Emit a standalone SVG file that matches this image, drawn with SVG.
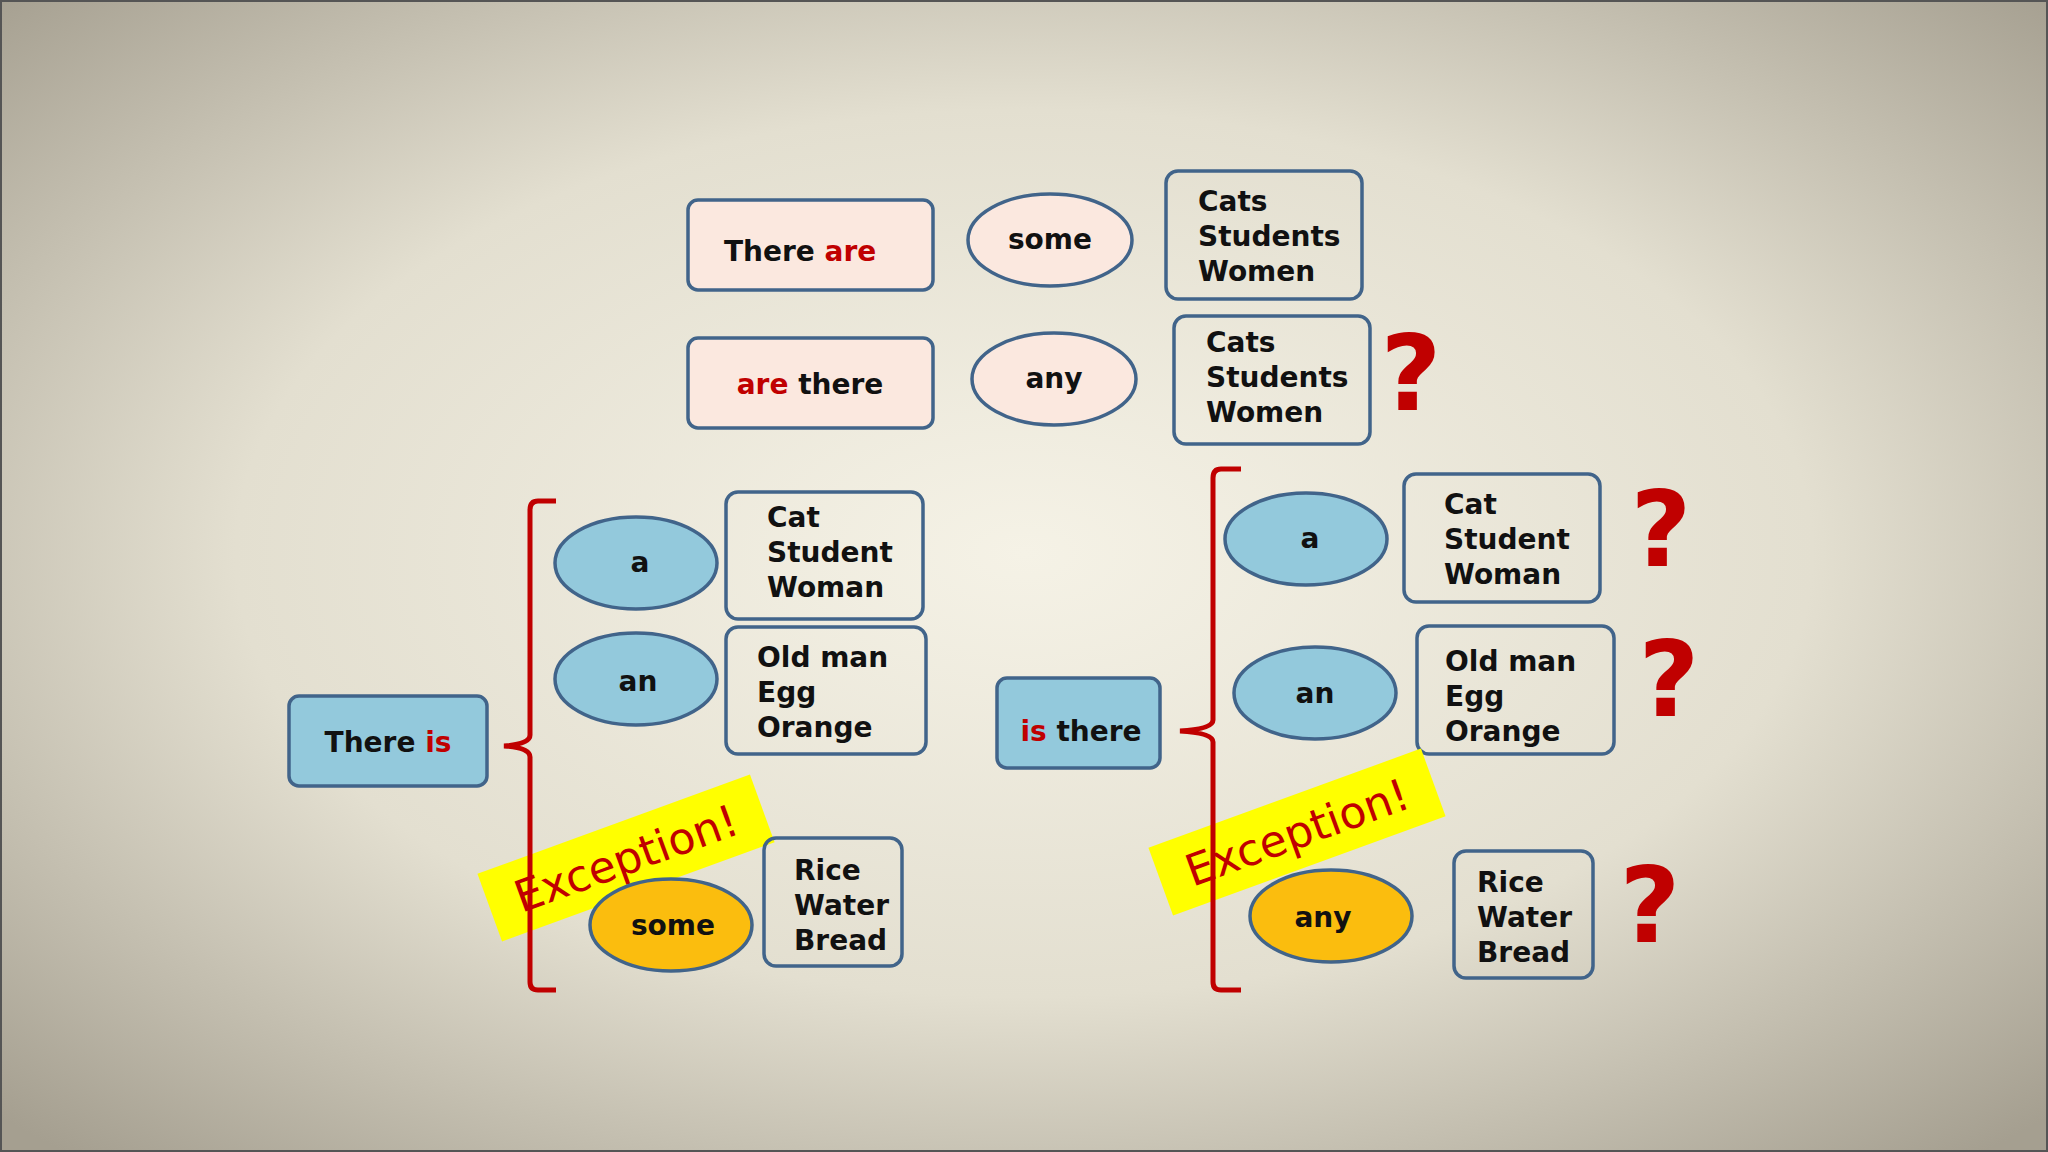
<svg xmlns="http://www.w3.org/2000/svg" width="2048" height="1152" viewBox="0 0 2048 1152">
<defs>
<radialGradient id="bg" cx="50%" cy="48%" r="70%">
<stop offset="0" stop-color="#f5f2e6"/><stop offset="0.55" stop-color="#e3dfd0"/><stop offset="1" stop-color="#a59f90"/>
</radialGradient>
<style>
.t{font-family:"DejaVu Sans",sans-serif;font-weight:bold;font-size:28px;fill:#111}
.r{fill:#c00000}
.pk{fill:#fbe8df;stroke:#41648a;stroke-width:3.5}
.bl{fill:#93c9dc;stroke:#41648a;stroke-width:3.5}
.yl{fill:#fbbd0e;stroke:#41648a;stroke-width:3.5}
.bx{fill:none;stroke:#41648a;stroke-width:3.5}
.br{fill:none;stroke:#c00000;stroke-width:5}
.q{font-family:"DejaVu Sans",sans-serif;font-weight:bold;font-size:105px;fill:#c00000}
.ex{font-family:"DejaVu Sans",sans-serif;font-size:44px;fill:#c00000}
</style>
</defs>
<rect width="2048" height="1152" fill="url(#bg)"/>
<rect x="1" y="1" width="2046" height="1150" fill="none" stroke="#555" stroke-width="2"/>

<g id="there-are"><rect class="pk" x="688" y="200" width="245" height="90" rx="10"/><text class="t" x="724" y="261">There <tspan class="r">are</tspan></text></g>
<g id="some-top"><ellipse class="pk" cx="1050" cy="240" rx="82" ry="46"/><text class="t" x="1050" y="249" text-anchor="middle">some</text></g>
<g id="cats1"><rect class="bx" x="1166" y="171" width="196" height="128" rx="12"/><text class="t" x="1198" y="211">Cats</text><text class="t" x="1198" y="246">Students</text><text class="t" x="1198" y="281">Women</text></g>
<g id="are-there"><rect class="pk" x="688" y="338" width="245" height="90" rx="10"/><text class="t" x="810" y="394" text-anchor="middle"><tspan class="r">are</tspan> there</text></g>
<g id="any-top"><ellipse class="pk" cx="1054" cy="379" rx="82" ry="46"/><text class="t" x="1054" y="388" text-anchor="middle">any</text></g>
<g id="cats2"><rect class="bx" x="1174" y="316" width="196" height="128" rx="12"/><text class="t" x="1206" y="352">Cats</text><text class="t" x="1206" y="387">Students</text><text class="t" x="1206" y="422">Women</text></g>
<text class="q" x="1411" y="410" text-anchor="middle">?</text>

<g id="there-is"><rect class="bl" x="289" y="696" width="198" height="90" rx="10"/><text class="t" x="388" y="752" text-anchor="middle">There <tspan class="r">is</tspan></text></g>
<g id="a-left"><ellipse class="bl" cx="636" cy="563" rx="81" ry="46"/><text class="t" x="640" y="572" text-anchor="middle">a</text></g>
<g id="cat-left"><rect class="bx" x="726" y="492" width="197" height="127" rx="12"/><text class="t" x="767" y="527">Cat</text><text class="t" x="767" y="562">Student</text><text class="t" x="767" y="597">Woman</text></g>
<g id="an-left"><ellipse class="bl" cx="636" cy="679" rx="81" ry="46"/><text class="t" x="638" y="691" text-anchor="middle">an</text></g>
<g id="oldman-left"><rect class="bx" x="726" y="627" width="200" height="127" rx="12"/><text class="t" x="757" y="667">Old man</text><text class="t" x="757" y="702">Egg</text><text class="t" x="757" y="737">Orange</text></g>
<g id="exc-left" transform="rotate(-20 626 858)"><rect x="481" y="822" width="290" height="72" fill="#ffff00"/><text class="ex" x="626" y="874" text-anchor="middle">Exception!</text></g>
<g id="some-left"><ellipse class="yl" cx="671" cy="925" rx="81" ry="46"/><text class="t" x="673" y="935" text-anchor="middle">some</text></g>
<g id="rice-left"><rect class="bx" x="764" y="838" width="138" height="128" rx="12"/><text class="t" x="794" y="880">Rice</text><text class="t" x="794" y="915">Water</text><text class="t" x="794" y="950">Bread</text></g>

<g id="is-there"><rect class="bl" x="997" y="678" width="163" height="90" rx="10"/><text class="t" x="1081" y="741" text-anchor="middle"><tspan class="r">is</tspan> there</text></g>
<g id="a-right"><ellipse class="bl" cx="1306" cy="539" rx="81" ry="46"/><text class="t" x="1310" y="548" text-anchor="middle">a</text></g>
<g id="cat-right"><rect class="bx" x="1404" y="474" width="196" height="128" rx="12"/><text class="t" x="1444" y="514">Cat</text><text class="t" x="1444" y="549">Student</text><text class="t" x="1444" y="584">Woman</text></g>
<text class="q" x="1661" y="566" text-anchor="middle">?</text>
<g id="an-right"><ellipse class="bl" cx="1315" cy="693" rx="81" ry="46"/><text class="t" x="1315" y="703" text-anchor="middle">an</text></g>
<g id="oldman-right"><rect class="bx" x="1417" y="626" width="197" height="128" rx="12"/><text class="t" x="1445" y="671">Old man</text><text class="t" x="1445" y="706">Egg</text><text class="t" x="1445" y="741">Orange</text></g>
<text class="q" x="1669" y="716" text-anchor="middle">?</text>
<g id="exc-right" transform="rotate(-20 1297 832)"><rect x="1152" y="796" width="290" height="72" fill="#ffff00"/><text class="ex" x="1297" y="848" text-anchor="middle">Exception!</text></g>
<g id="any-right"><ellipse class="yl" cx="1331" cy="916" rx="81" ry="46"/><text class="t" x="1323" y="927" text-anchor="middle">any</text></g>
<g id="rice-right"><rect class="bx" x="1454" y="851" width="139" height="127" rx="12"/><text class="t" x="1477" y="892">Rice</text><text class="t" x="1477" y="927">Water</text><text class="t" x="1477" y="962">Bread</text></g>
<text class="q" x="1650" y="942" text-anchor="middle">?</text>

<g id="connectors">
<path class="br" d="M556 501 H538 Q530 501 530 510 V735 Q530 744 504 746 Q530 748 530 757 V982 Q530 990 538 990 H556"/>
<path class="br" d="M1241 469 H1221 Q1213 469 1213 478 V720 Q1213 729 1180 731 Q1213 733 1213 742 V982 Q1213 990 1221 990 H1241"/>
</g>
</svg>
